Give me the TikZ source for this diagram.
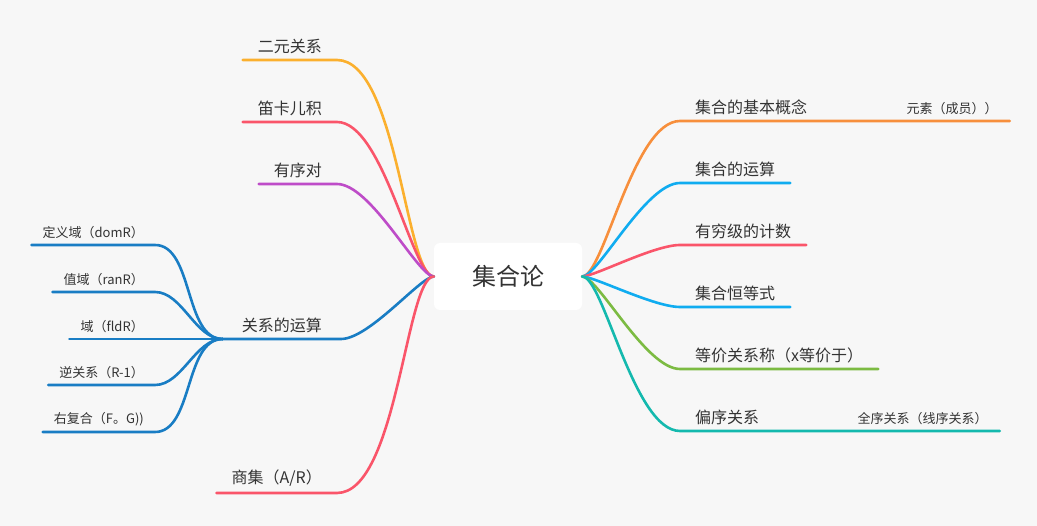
\documentclass[tikz,border=0pt]{standalone}
\usepackage{fontspec}
\setmainfont{Noto Sans CJK SC}
\usetikzlibrary{positioning}

\definecolor{bgcol}{RGB}{247,247,247}
\definecolor{txtcol}{RGB}{51,51,51}
\definecolor{cyellow}{RGB}{251,176,46}
\definecolor{cred}{RGB}{250,85,106}
\definecolor{cpurple}{RGB}{190,76,200}
\definecolor{cblue}{RGB}{25,125,196}
\definecolor{corange}{RGB}{247,143,60}
\definecolor{csky}{RGB}{16,172,240}
\definecolor{cgreen}{RGB}{124,187,66}
\definecolor{cteal}{RGB}{20,185,174}

\begin{document}
\begin{tikzpicture}[x=1pt, y=-1pt,
    topic/.style={fill=white, rounded corners=6pt, minimum width=148pt, minimum height=67pt, inner sep=0pt, font=\fontsize{24}{28}\selectfont, text=txtcol},
    lbl/.style={inner xsep=15pt, inner ysep=6pt, font=\fontsize{16}{19}\selectfont, text=txtcol},
    sublbl/.style={inner xsep=11pt, inner ysep=6pt, font=\fontsize{13}{16}\selectfont, text=txtcol},
    farlbl/.style={inner xsep=12pt, inner ysep=6pt, align=right, font=\fontsize{13}{16}\selectfont, text=txtcol},
    br/.style={line width=2.6pt, line cap=round},
    lto/.style={out=180, in=0, out looseness=0.3, in looseness=0.65},
    rto/.style={out=0, in=180, out looseness=0.3, in looseness=0.65},
    sto/.style={out=180, in=0, looseness=0.85}
  ]
    \fill[bgcol] (0,0) rectangle (1037,526);
    \useasboundingbox (0,0) rectangle (1037,526);

    \node[topic] (root) at (508,276.5) {集合论};

    % left side
    \node[lbl, anchor=south east] (binrel) at (337,60) {二元关系};
    \node[lbl, anchor=south east] (cart) at (337,122) {笛卡儿积};
    \node[lbl, anchor=south east] (pair) at (337,184) {有序对};
    \node[lbl, anchor=south east, inner xsep=19pt] (relop) at (341,339) {关系的运算};
    \node[lbl, anchor=south east] (quot) at (337,493) {商集（A/R）};

    \node[sublbl, anchor=south east] (dom) at (155,245) {定义域（domR）};
    \node[sublbl, anchor=south east] (ran) at (155,292) {值域（ranR）};
    \node[sublbl, anchor=south east] (fld) at (155,339) {域（fldR）};
    \node[sublbl, anchor=south east] (inv) at (155,385) {逆关系（R-1）};
    \node[sublbl, anchor=south east] (comp) at (155,432) {右复合（F。G))};

    % right side
    \node[lbl, anchor=south west] (basic) at (680,121) {集合的基本概念};
    \node[lbl, anchor=south west] (setop) at (680,183) {集合的运算};
    \node[lbl, anchor=south west] (count) at (680,245) {有穷级的计数};
    \node[lbl, anchor=south west] (ident) at (680,307) {集合恒等式};
    \node[lbl, anchor=south west] (equiv) at (680,369) {等价关系称（x等价于）};
    \node[lbl, anchor=south west] (poset) at (680,431) {偏序关系};

    \node[farlbl, anchor=south west, text width=163pt] (elem) at (basic.south east) {元素（成员））};
    \node[farlbl, anchor=south west, text width=201pt] (total) at (poset.south east) {全序关系（线序关系）};

    \draw[br, cyellow] (root.west) to[lto] (binrel.south east) -- (binrel.south west);
    \draw[br, cred] (root.west) to[lto] (cart.south east) -- (cart.south west);
    \draw[br, cpurple] (root.west) to[lto] (pair.south east) -- (pair.south west);
    \draw[br, cblue] (root.west) to[lto] (relop.south east) -- (relop.south west);
    \draw[br, cred] (root.west) to[lto] (quot.south east) -- (quot.south west);

    \foreach \s in {dom,ran,fld,inv,comp}
      \draw[br, cblue] (relop.south west) to[sto] (\s.south east) -- (\s.south west);

    \draw[br, corange] (root.east) to[rto] (basic.south west) -- (basic.south east) -- (elem.south east);
    \draw[br, csky] (root.east) to[rto] (setop.south west) -- (setop.south east);
    \draw[br, cred] (root.east) to[rto] (count.south west) -- (count.south east);
    \draw[br, csky] (root.east) to[rto] (ident.south west) -- (ident.south east);
    \draw[br, cgreen] (root.east) to[rto] (equiv.south west) -- (equiv.south east);
    \draw[br, cteal] (root.east) to[rto] (poset.south west) -- (poset.south east) -- (total.south east);
  \end{tikzpicture}
\end{document}
